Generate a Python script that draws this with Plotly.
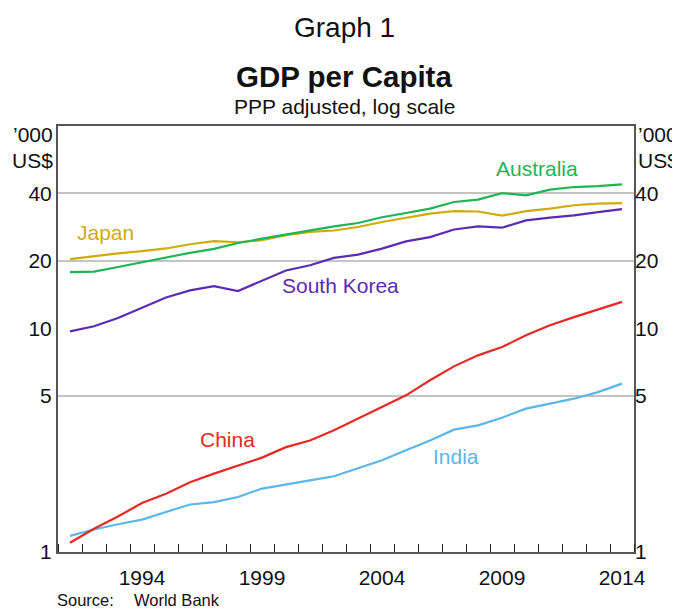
import math
import plotly.graph_objects as go

# ---- data ('000 US$, PPP adjusted) ----
years = list(range(1991, 2015))
australia = [17.8, 17.9, 18.75, 19.7, 20.6, 21.7, 22.6, 24.0, 25.1, 26.2, 27.3, 28.5,
             29.5, 31.3, 32.7, 34.2, 36.6, 37.5, 40.1, 39.2, 41.6, 42.7, 43.1, 43.9]
japan = [20.35, 21.0, 21.6, 22.1, 22.7, 23.7, 24.5, 24.2, 24.7, 26.0, 26.9, 27.3,
         28.3, 29.8, 31.0, 32.5, 33.3, 33.2, 31.8, 33.3, 34.2, 35.4, 36.0, 36.2]
south_korea = [9.68, 10.2, 11.1, 12.35, 13.7, 14.75, 15.4, 14.65, 16.35, 18.1, 19.1, 20.6,
               21.3, 22.65, 24.4, 25.5, 27.6, 28.5, 28.1, 30.3, 31.2, 31.9, 33.0, 34.0]
china = [1.10, 1.27, 1.44, 1.655, 1.82, 2.05, 2.24, 2.44, 2.64, 2.94, 3.15, 3.50,
         3.94, 4.44, 5.01, 5.85, 6.75, 7.56, 8.23, 9.29, 10.3, 11.2, 12.1, 13.1]
india = [1.18, 1.26, 1.33, 1.395, 1.51, 1.63, 1.67, 1.76, 1.92, 2.01, 2.09, 2.18,
         2.36, 2.57, 2.85, 3.15, 3.52, 3.68, 3.98, 4.37, 4.60, 4.84, 5.18, 5.65]

year_labels = ["1994", "1999", "2004", "2009", "2014"]
y_tick_vals = [1, 5, 10, 20, 40]
y_tick_text = ["1", "5", "10", "20", "40"]
grid_vals = [5, 20, 40]

FONT = "Liberation Sans, Arial, sans-serif"
colors = {
    "Australia": "#1fb454",
    "Japan": "#cfab0c",
    "South Korea": "#5a2cb4",
    "China": "#e52a25",
    "India": "#5cb6e8",
}

xs = [y + 0.5 for y in years]  # annual values centred in each year

fig = go.Figure()
for name, vals in [("Japan", japan), ("Australia", australia), ("South Korea", south_korea),
                   ("India", india), ("China", china)]:
    fig.add_trace(go.Scatter(x=xs, y=vals, mode="lines", name=name,
                             line=dict(color=colors[name], width=2.2), showlegend=False))

# dummy traces so overlay axes render
fig.add_trace(go.Scatter(x=[None], y=[None], yaxis="y2", showlegend=False, hoverinfo="skip"))
fig.add_trace(go.Scatter(x=[None], y=[None], yaxis="y3", showlegend=False, hoverinfo="skip"))

yrange = [0, math.log10(80)]
axis_line = "#555555"
tickfont = dict(family=FONT, size=21, color="#111111")

# page body has an 8px margin, so the figure is drawn from (8, 8)
fig.update_layout(
    width=672, height=603,
    margin=dict(l=50, r=46, t=118, b=59),
    paper_bgcolor="white", plot_bgcolor="white",
    font=dict(family=FONT, color="#111111"),
    xaxis=dict(
        range=[1991, 2015], showgrid=False, zeroline=False,
        tickmode="array", tickvals=[int(t) + 0.5 for t in year_labels], ticktext=year_labels,
        ticks="", tickfont=tickfont, ticklabelstandoff=6,
        showline=True, linecolor=axis_line, linewidth=2, mirror=True,
        minor=dict(tickmode="linear", tick0=1991, dtick=1, ticks="inside",
                   ticklen=8, tickwidth=1.3, tickcolor="#222222", showgrid=False),
    ),
    yaxis=dict(
        type="log", range=yrange, tickmode="array", tickvals=y_tick_vals, ticktext=y_tick_text,
        showgrid=False, zeroline=False, ticks="", tickfont=tickfont,
        showline=True, linecolor=axis_line, linewidth=2, mirror=True,
    ),
    yaxis2=dict(
        type="log", range=yrange, overlaying="y", side="right", tickmode="array",
        tickvals=y_tick_vals, ticktext=y_tick_text, showgrid=False, zeroline=False,
        ticks="", tickfont=tickfont, showline=False,
    ),
    yaxis3=dict(
        type="log", range=yrange, overlaying="y", side="left", tickmode="array",
        tickvals=grid_vals, showticklabels=False, showgrid=True, gridcolor="#c4c4c4",
        gridwidth=1.5, zeroline=False, ticks="", showline=False,
    ),
)

ann = []
def paper_text(text, x, y, size, xanchor="center", bold=False, color="#111111"):
    ann.append(dict(text=f"<b>{text}</b>" if bold else text, x=x, y=y, xref="paper", yref="paper",
                    xanchor=xanchor, yanchor="middle", showarrow=False,
                    font=dict(family=FONT, size=size, color=color)))

# screen-pixel helpers (plot area spans x 58..634, y 126..552 on screen)
def px_x(p):
    return (p - 58) / 576.0

def px_y(p):
    return (552 - p) / 426.0

paper_text("Graph 1", px_x(344), px_y(27), 28)
paper_text("GDP per Capita", px_x(344), px_y(76), 29.5, bold=True)
paper_text("PPP adjusted, log scale", px_x(344), px_y(107), 21)
paper_text("’000", px_x(55), px_y(134), 21, xanchor="right")
paper_text("US$", px_x(55), px_y(160), 21, xanchor="right")
paper_text("’000", px_x(636), px_y(134), 21, xanchor="left")
paper_text("US$", px_x(636), px_y(160), 21, xanchor="left")
paper_text("Source:", px_x(55), px_y(600), 16.5, xanchor="left")
paper_text("World Bank", px_x(132), px_y(600), 16.5, xanchor="left")

# series labels (data coords; log axis annotations use log10 of value)
series_labels = [
    ("Japan", 1992.96, 26.8),
    ("Australia", 2010.94, 51.7),
    ("South Korea", 2002.79, 15.5),
    ("China", 1998.08, 3.18),
    ("India", 2007.6, 2.68),
]
for name, lx, lv in series_labels:
    ann.append(dict(text=name, x=lx, y=math.log10(lv), xref="x", yref="y",
                    xanchor="center", yanchor="middle", showarrow=False,
                    font=dict(family=FONT, size=21, color=colors[name])))

fig.update_layout(annotations=ann)
fig.write_html("out.html")
